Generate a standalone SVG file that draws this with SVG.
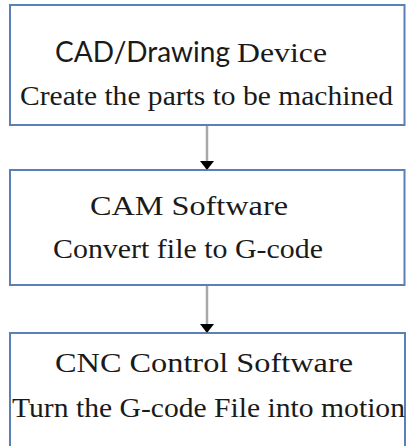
<svg xmlns="http://www.w3.org/2000/svg" width="406" height="446" viewBox="0 0 406 446">
  <style>
    .box { fill: #ffffff; stroke: #5b80b5; stroke-width: 2; }
    .label { font-family: "Liberation Serif", "Times New Roman", serif; font-size: 28px; fill: #1a1a1a; }
    .sans { font-family: Lato, "Liberation Sans", Arial, sans-serif; font-size: 28px; fill: #1a1a1a; }
    .link { stroke: #a8a8a8; stroke-width: 2.5; fill: none; }
  </style>
  <defs>
    <!-- arrowhead drawn along +x so orient="auto" points it down the line -->
    <marker id="head" markerUnits="userSpaceOnUse" markerWidth="10" markerHeight="15" refX="9" refY="7.5" orient="auto" viewBox="0 0 10 15">
      <polygon points="0,0.5 9,7.5 0,14.5" fill="#000000"/>
    </marker>
  </defs>
  <rect width="406" height="446" fill="#ffffff"/>

  <g id="cad">
    <rect class="box" x="10" y="5" width="394.5" height="120"/>
    <text class="sans" x="55" y="62" textLength="175" lengthAdjust="spacingAndGlyphs">CAD/Drawing</text>
    <text class="label" x="237" y="62" textLength="90" lengthAdjust="spacingAndGlyphs">Device</text>
    <text class="label" x="20" y="105" textLength="373" lengthAdjust="spacingAndGlyphs">Create the parts to be machined</text>
  </g>

  <g id="cam">
    <rect class="box" x="10" y="170" width="394.5" height="115"/>
    <text class="label" x="90" y="215" textLength="198" lengthAdjust="spacingAndGlyphs">CAM Software</text>
    <text class="label" x="53" y="258" textLength="270" lengthAdjust="spacingAndGlyphs">Convert file to G-code</text>
  </g>

  <g id="cnc">
    <rect class="box" x="10" y="333" width="395" height="130"/>
    <text class="label" x="55" y="372" textLength="298" lengthAdjust="spacingAndGlyphs">CNC Control Software</text>
    <text class="label" x="12" y="417" textLength="393" lengthAdjust="spacingAndGlyphs">Turn the G-code File into motion</text>
  </g>

  <g id="connectors">
    <line class="link" x1="207" y1="126" x2="207" y2="170" marker-end="url(#head)"/>
    <line class="link" x1="207" y1="286" x2="207" y2="333" marker-end="url(#head)"/>
  </g>
</svg>
